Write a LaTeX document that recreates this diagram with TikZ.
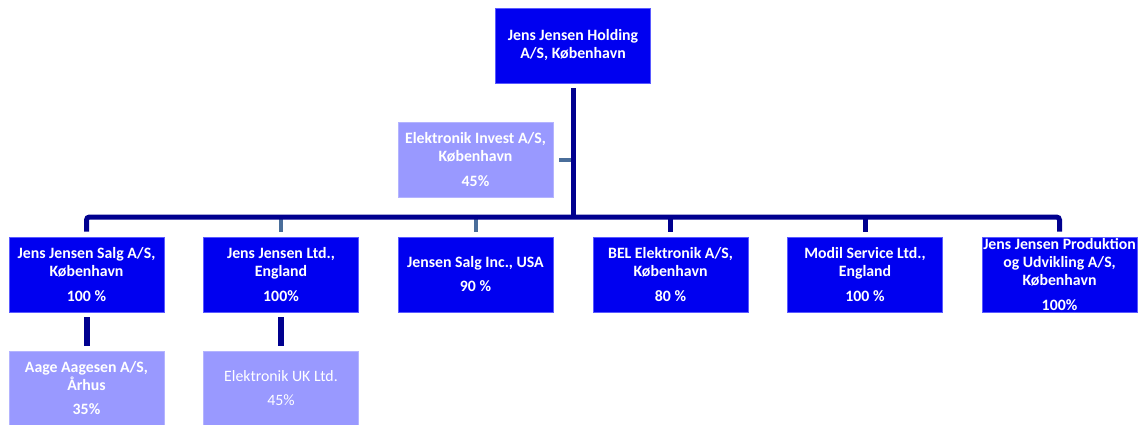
\documentclass[tikz,border=0pt]{standalone}
\usepackage{fontspec}
\setmainfont{Carlito}
\definecolor{boxblue}{HTML}{0000F0}
\definecolor{edgeblue}{HTML}{5A5AFF}
\definecolor{boxlight}{HTML}{9999FF}
\definecolor{edgelight}{HTML}{B4B4FF}
\definecolor{navy}{HTML}{00008F}
\definecolor{steel}{HTML}{4A6E9A}
\begin{document}
\begin{tikzpicture}[x=1pt,y=-1pt,
  box/.style={rectangle, minimum width=155pt, minimum height=75pt, inner sep=0pt,
    align=center, text=white, line width=0.8pt,
    font=\bfseries\fontsize{15.8}{18}\selectfont},
  dark/.style={box, fill=boxblue, draw=edgeblue},
  light/.style={box, fill=boxlight, draw=edgelight},
  navyline/.style={draw=navy, line width=5pt},
  steelline/.style={draw=steel, line width=4pt}]
\useasboundingbox (0,0) rectangle (1143,424);

\node[dark] (top) at (573,45.5) {Jens Jensen Holding\\A/S, København};
\node[light] (inv) at (475.5,160) {Elektronik Invest A/S,\\København\\[7pt]45\%};

\node[dark] (b1) at (86.5,274.5) {Jens Jensen Salg A/S,\\København\\[7pt]100 \%};
\node[dark] (b2) at (281,274.5) {Jens Jensen Ltd.,\\England\\[7pt]100\%};
\node[dark] (b3) at (475.5,274.5) {Jensen Salg Inc., USA\\[6pt]90 \%};
\node[dark] (b4) at (670.5,274.5) {BEL Elektronik A/S,\\København\\[7pt]80 \%};
\node[dark] (b5) at (865,274.5) {Modil Service Ltd.,\\England\\[7pt]100 \%};
\node[dark] (b6) at (1059.5,274.5) {Jens Jensen Produktion\\og Udvikling A/S,\\København\\[7pt]100\%};

\node[light, minimum height=74pt] (c1) at (86.5,388) {Aage Aagesen A/S,\\Århus\\[6pt]35\%};
\node[light, minimum height=74pt, font=\mdseries\fontsize{15.8}{18}\selectfont] (c2) at (281,388) {Elektronik UK Ltd.\\[6pt]45\%};

\coordinate (bar) at (573,217);

% steel connectors (under the bar)
\draw[steelline] ([yshift=5pt]b2.north) -- (b2.north |- bar);
\draw[steelline] ([yshift=5pt]b3.north) -- (b3.north |- bar);
\draw[steelline] ([xshift=6pt]inv.east) -- (inv.east -| bar);

% navy connectors
\draw[navyline] ([yshift=-5pt]top.south) -- (bar);
\draw[navyline, rounded corners=3pt] ([yshift=5pt]b1.north) |- (bar) -| ([yshift=5pt]b6.north);
\draw[navyline] ([yshift=5pt]b4.north) -- (b4.north |- bar);
\draw[navyline] ([yshift=5pt]b5.north) -- (b5.north |- bar);
\draw[navyline, line width=6pt] ([yshift=-5pt]b1.south) -- ([yshift=5pt]c1.north);
\draw[navyline, line width=6pt] ([yshift=-5pt]b2.south) -- ([yshift=5pt]c2.north);
\end{tikzpicture}
\end{document}
